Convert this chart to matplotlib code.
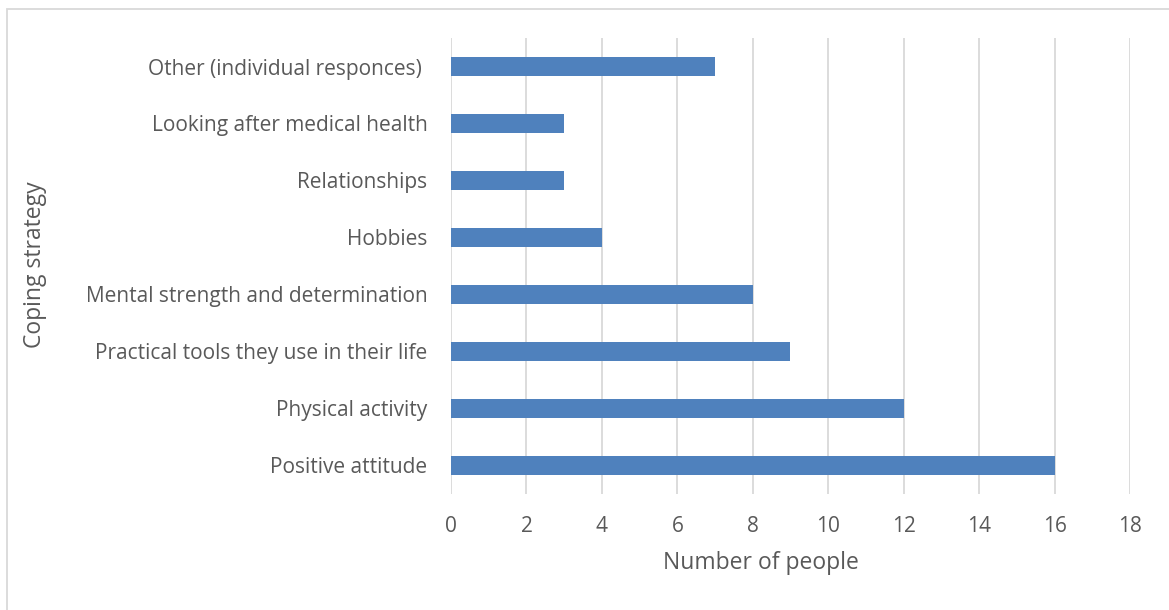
import matplotlib
matplotlib.use('Agg')
import matplotlib.pyplot as plt
from matplotlib.patches import Rectangle

plt.rcParams['font.family'] = ['Open Sans', 'DejaVu Sans']

# Coping strategies, listed bottom to top
strategies = ['Positive attitude', 'Physical activity',
              'Practical tools they use in their life',
              'Mental strength and determination', 'Hobbies',
              'Relationships', 'Looking after medical health',
              'Other (individual responces) ']
people = [16, 12, 9, 8, 4, 3, 3, 7]
xticks = [0, 2, 4, 6, 8, 10, 12, 14, 16, 18]

text_col = '#595959'
bar_col = '#4f81bd'

fig = plt.figure(figsize=(11.69, 6.10), dpi=100)
ax = fig.add_axes([0.3858, 0.1902, 0.5808, 0.7475])

ax.barh(range(len(strategies)), people, height=0.35, color=bar_col, zorder=3)

ax.set_xlim(0, 18)
ax.set_ylim(-0.5, len(strategies) - 0.5)
ax.set_xticks(xticks)
ax.set_yticks(range(len(strategies)))
ax.set_yticklabels(strategies)
ax.grid(axis='x', color='#d9d9d9', linewidth=1.3, zorder=0)
for s in ax.spines.values():
    s.set_visible(False)
ax.tick_params(axis='both', length=0, labelsize=15, colors=text_col)
ax.tick_params(axis='x', pad=16)
ax.tick_params(axis='y', pad=17)

ax.set_xlabel('Number of people', fontsize=16.5, color=text_col)
ax.xaxis.set_label_coords(0.4566, -0.125)
fig.text(0.03, 0.566, 'Coping strategy', rotation=90, ha='center',
         va='center', fontsize=16.5, color=text_col)

# light frame around the chart area
fig.patches.append(Rectangle((7 / 1169, -0.1), 1.2, 1 - 9 / 610 + 0.1,
                             transform=fig.transFigure, fill=False,
                             edgecolor='#d9d9d9', linewidth=1.3))

fig.savefig('out.png', dpi=100)
